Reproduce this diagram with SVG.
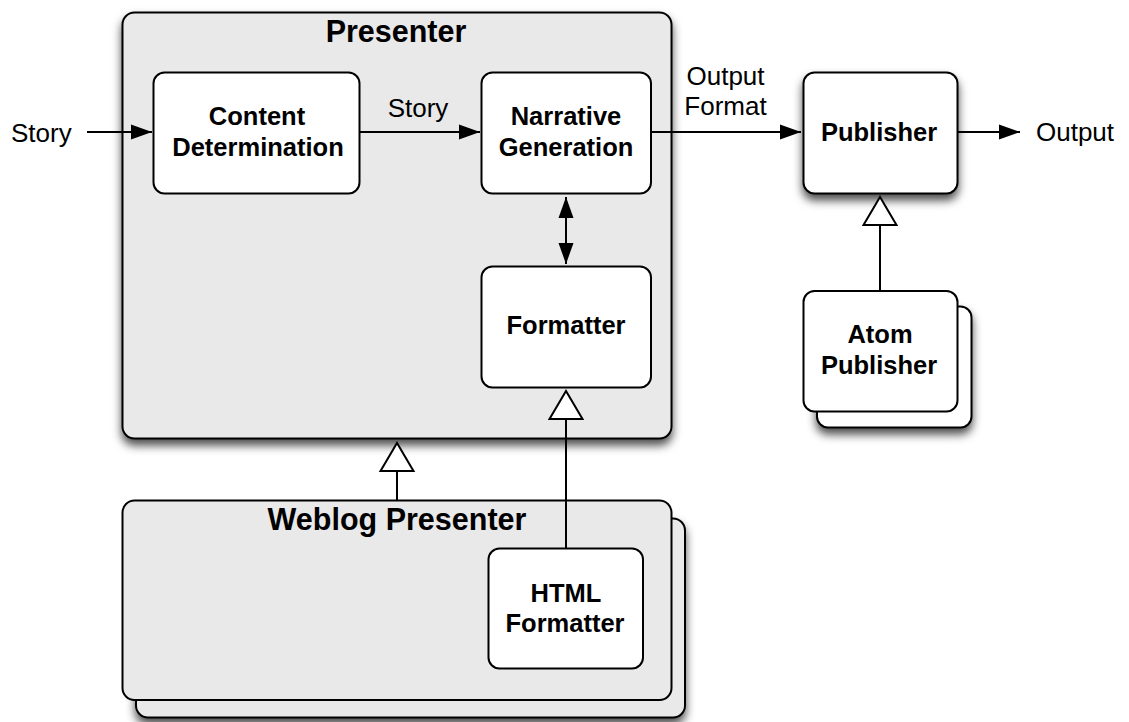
<svg xmlns="http://www.w3.org/2000/svg" width="1129" height="722" viewBox="0 0 1129 722">
  <style>
    .container { fill: #e9e9e9; stroke: #000; stroke-width: 2; }
    .box { fill: #fff; stroke: #000; stroke-width: 2; }
    .shadow { filter: url(#drop); }
    .title { font-family: "Liberation Sans", Arial, sans-serif; font-weight: bold; font-size: 30.5px; text-anchor: middle; fill: #000; }
    .label { font-family: "Liberation Sans", Arial, sans-serif; font-weight: bold; font-size: 25.5px; text-anchor: middle; fill: #000; }
    .plain { font-family: "Liberation Sans", Arial, sans-serif; font-size: 26px; fill: #000; }
    .conn { fill: none; stroke: #000; stroke-width: 2; }
  </style>
  <defs>
    <filter id="drop" x="-10%" y="-10%" width="120%" height="135%">
      <feDropShadow dx="0" dy="6" stdDeviation="5" flood-color="#000" flood-opacity="0.7"/>
    </filter>
    <marker id="arrow" markerUnits="userSpaceOnUse" markerWidth="22" markerHeight="16" viewBox="0 0 22 16" refX="21" refY="8" orient="auto-start-reverse">
      <path d="M0,0.5 L21,8 L0,15.5 z" fill="#000"/>
    </marker>
    <marker id="hollow" markerUnits="userSpaceOnUse" markerWidth="32" markerHeight="38" viewBox="0 0 32 38" refX="29" refY="19" orient="auto">
      <path d="M1,2.5 L29,19 L1,35.5 z" fill="#fff" stroke="#000" stroke-width="2"/>
    </marker>
  </defs>

  <g id="presenter">
    <rect class="container shadow" x="122.5" y="12.5" width="549" height="426" rx="12"/>
    <text class="title" x="396" y="42">Presenter</text>
  </g>

  <g id="content-determination">
    <rect class="box" x="153.5" y="72.5" width="206" height="121" rx="11"/>
    <text class="label" x="257" y="125">Content</text>
    <text class="label" x="258" y="156">Determination</text>
  </g>

  <g id="narrative-generation">
    <rect class="box" x="481.5" y="72.5" width="169.5" height="121" rx="11"/>
    <text class="label" x="566" y="125">Narrative</text>
    <text class="label" x="566" y="156">Generation</text>
  </g>

  <g id="formatter">
    <rect class="box" x="481.5" y="266.5" width="169.5" height="121" rx="11"/>
    <text class="label" x="566" y="334">Formatter</text>
  </g>

  <g id="weblog-presenter">
    <rect class="container shadow" x="136" y="518.5" width="549" height="199" rx="12"/>
    <rect class="container" x="122.5" y="500.5" width="549" height="199.5" rx="12"/>
    <text class="title" x="397" y="530">Weblog Presenter</text>
  </g>

  <g id="html-formatter">
    <rect class="box" x="488.5" y="548.5" width="154.5" height="120" rx="11"/>
    <text class="label" x="566" y="602">HTML</text>
    <text class="label" x="565" y="632">Formatter</text>
  </g>

  <g id="publisher">
    <rect class="box shadow" x="803.5" y="72.5" width="154" height="121" rx="11"/>
    <text class="label" x="879" y="141">Publisher</text>
  </g>

  <g id="atom-publisher">
    <rect class="box shadow" x="817" y="306.5" width="154.5" height="121" rx="11"/>
    <rect class="box" x="803.5" y="291" width="154" height="120.5" rx="11"/>
    <text class="label" x="880" y="343">Atom</text>
    <text class="label" x="879" y="374">Publisher</text>
  </g>

  <g id="labels">
    <text class="plain" x="11" y="142">Story</text>
    <text class="plain" x="418" y="117" text-anchor="middle">Story</text>
    <text class="plain" x="725.5" y="85" text-anchor="middle">Output</text>
    <text class="plain" x="725.5" y="115" text-anchor="middle">Format</text>
    <text class="plain" x="1036" y="141">Output</text>
  </g>

  <g id="connectors">
    <line class="conn" x1="87" y1="132" x2="152" y2="132" marker-end="url(#arrow)"/>
    <line class="conn" x1="360" y1="132" x2="480" y2="132" marker-end="url(#arrow)"/>
    <line class="conn" x1="651" y1="132" x2="801" y2="132" marker-end="url(#arrow)"/>
    <line class="conn" x1="958" y1="132" x2="1020" y2="132" marker-end="url(#arrow)"/>
    <line class="conn" x1="566" y1="197" x2="566" y2="264" marker-start="url(#arrow)" marker-end="url(#arrow)"/>
    <line class="conn" x1="566" y1="548" x2="566" y2="391" marker-end="url(#hollow)"/>
    <line class="conn" x1="397" y1="500" x2="397" y2="443" marker-end="url(#hollow)"/>
    <line class="conn" x1="880" y1="291" x2="880" y2="197" marker-end="url(#hollow)"/>
  </g>
</svg>
